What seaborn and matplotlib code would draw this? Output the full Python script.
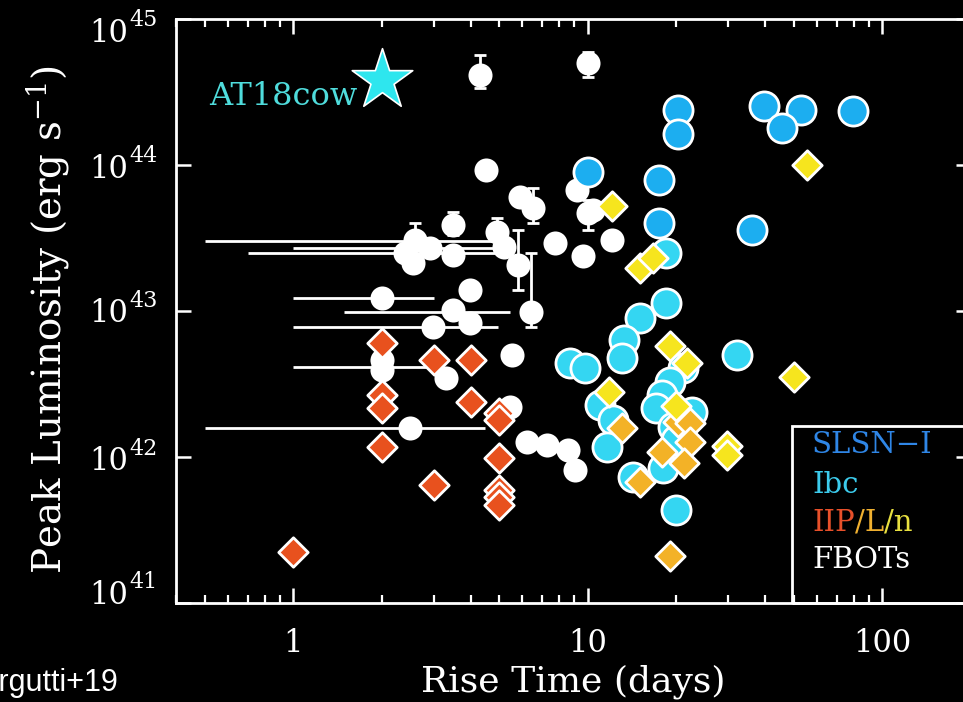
import numpy as np
import seaborn as sns
import matplotlib.pyplot as plt
from matplotlib.patches import Rectangle
from matplotlib.ticker import FixedLocator, LogLocator, NullLocator

# Superluminous supernovae (type I)
slsn_rise = [20.3, 20.3, 39.8, 53.1, 45.8, 79.8, 10.0, 17.4, 17.5, 36.0]
slsn_lum = [2.38e44, 1.63e44, 2.55e44, 2.38e44, 1.79e44, 2.34e44,
            8.96e43, 7.89e43, 4.01e43, 3.59e43]

# Stripped-envelope supernovae (Ibc)
ibc_rise = [18.5, 18.5, 15.0, 13.3, 13.1, 8.69, 9.77, 32.0, 11.0, 12.2, 11.6,
            14.2, 21.0, 19.0, 17.8, 17.1, 22.5, 19.4, 20.0, 18.0, 19.9]
ibc_lum = [2.50e43, 1.13e43, 8.96e42, 6.32e42, 4.77e42, 4.40e42, 4.07e42,
           5.0e42, 2.27e42, 1.79e42, 1.17e42, 7.3e41, 4.07e42, 3.27e42,
           2.66e42, 2.17e42, 2.03e42, 1.60e42, 1.31e42, 8.4e41, 4.33e41]

# Hydrogen-rich supernovae: IIP, IIL, IIn
iip_rise = [1.0, 2.0, 2.0, 2.0, 2.0, 3.0, 4.0, 4.0, 3.0, 5.0, 5.0, 5.0, 5.0, 5.0, 5.0]
iip_lum = [2.23e41, 6.04e42, 2.66e42, 2.17e42, 1.17e42, 4.61e42, 4.61e42,
           2.38e42, 6.43e41, 2.0e42, 1.79e42, 9.85e41, 5.94e41, 5.32e41, 4.69e41]

iil_rise = [13.1, 17.8, 20.2, 22.2, 22.2, 21.3, 15.0, 19.0]
iil_lum = [1.58e42, 1.08e42, 1.74e42, 1.71e42, 1.27e42, 9.1e41, 6.74e41, 2.10e41]

iin_rise = [12.1, 15.1, 16.6, 55.7, 50.3, 19.0, 21.8, 11.8, 20.0, 29.8, 29.8]
iin_lum = [5.24e43, 1.97e43, 2.31e43, 1.0e44, 3.53e42, 5.76e42, 4.40e42,
           2.79e42, 2.23e42, 1.19e42, 1.03e42]

# Fast blue optical transients
fbot_rise = [4.30, 10.0, 4.51, 5.88, 6.51, 9.18, 10.0, 10.4, 3.49, 4.91, 7.73,
             12.1, 2.59, 2.40, 2.55, 2.91, 3.49, 5.2, 5.79, 9.62, 6.4, 2.0,
             3.98, 3.49, 3.98, 2.98, 5.53, 2.0, 2.0, 3.30, 2.49, 5.44, 6.21,
             7.26, 8.55, 9.03]
fbot_lum = [4.13e44, 5.0e44, 9.25e43, 6.04e43, 5.07e43, 6.74e43, 4.69e43,
            4.92e43, 3.88e43, 3.5e43, 2.9e43, 3.06e43, 3.06e43, 2.50e43,
            2.13e43, 2.70e43, 2.42e43, 2.74e43, 2.07e43, 2.38e43, 9.85e42,
            1.23e43, 1.39e43, 1.02e43, 8.28e42, 7.77e42, 5.0e42, 4.61e42,
            3.95e42, 3.48e42, 1.58e42, 2.20e42, 1.27e42, 1.21e42, 1.12e42, 8.15e41]

# FBOT luminosity uncertainties
fbot_yerr_rise = [4.30, 10.0, 6.51, 10.0, 3.49, 4.91, 2.59, 5.79, 6.4]
fbot_yerr_lum = [4.13e44, 5.0e44, 5.07e43, 4.69e43, 3.88e43, 3.5e43, 3.06e43, 2.07e43, 9.85e42]
fbot_yerr_lo = [3.37e44, 4.0e44, 4.01e43, 3.59e43, 3.3e43, 3.0e43, 2.6e43, 1.39e43, 7.77e42]
fbot_yerr_hi = [5.66e44, 5.94e44, 6.95e43, 5.76e43, 4.76e43, 4.33e43, 4.01e43, 3.59e43, 2.50e43]

# FBOT rise-time ranges
fbot_xerr_rise = [2.59, 2.91, 2.40, 2.0, 3.49, 2.98, 2.0, 2.49]
fbot_xerr_lum = [3.02e43, 2.72e43, 2.50e43, 1.23e43, 9.85e42, 7.77e42, 4.13e42, 1.58e42]
fbot_xerr_lo = [0.503, 1.0, 0.703, 1.0, 1.49, 1.0, 1.0, 0.503]
fbot_xerr_hi = [5.6, 5.6, 5.0, 3.0, 5.44, 4.95, 3.0, 4.48]

# AT2018cow
cow_rise = [2.0]
cow_lum = [3.8e44]

x_ticks = [1, 10, 100]
x_tick_labels = ["1", "10", "100"]
y_ticks = [1e41, 1e42, 1e43, 1e44, 1e45]
y_tick_exponents = ["41", "42", "43", "44", "45"]

sns.set_style("dark", {
    "axes.facecolor": "black", "figure.facecolor": "black",
    "axes.edgecolor": "white", "text.color": "white",
    "axes.labelcolor": "white", "xtick.color": "white",
    "ytick.color": "white", "axes.grid": False,
})
plt.rcParams["font.family"] = ["DejaVu Serif"]
plt.rcParams["mathtext.fontset"] = "dejavuserif"

W, H = 963, 702
PT = 0.72  # points per pixel at 100 dpi
fig = plt.figure(figsize=(W / 100, H / 100), dpi=100, facecolor="black")
ax = fig.add_axes([176 / W, 99 / H, 795 / W, 584 / H])
ax.set_facecolor("black")
ax.set_xscale("log")
ax.set_yscale("log")
ax.set_xlim(0.4, 200)
ax.set_ylim(1e41, 1e45)

c_slsn = "#1caef0"
c_ibc = "#34d6f2"
c_iip = "#e8511e"
c_iil = "#f3b227"
c_iin = "#f6e51e"

# error bars for the fast transients
xe = np.array(fbot_xerr_rise)
ax.errorbar(fbot_xerr_rise, fbot_xerr_lum,
            xerr=[xe - np.array(fbot_xerr_lo), np.array(fbot_xerr_hi) - xe],
            fmt="none", ecolor="white", elinewidth=2.0, capsize=0, zorder=2)
ye = np.array(fbot_yerr_lum)
ax.errorbar(fbot_yerr_rise, fbot_yerr_lum,
            yerr=[ye - np.array(fbot_yerr_lo), np.array(fbot_yerr_hi) - ye],
            fmt="none", ecolor="white", elinewidth=2.0, capsize=4, capthick=2.0, zorder=2)

sns.scatterplot(x=fbot_rise, y=fbot_lum, ax=ax, marker="o", s=300,
                color="white", edgecolor="white", linewidth=0, zorder=3)
sns.scatterplot(x=slsn_rise, y=slsn_lum, ax=ax, marker="o", s=440,
                color=c_slsn, edgecolor="white", linewidth=2.0, zorder=4)
sns.scatterplot(x=ibc_rise, y=ibc_lum, ax=ax, marker="o", s=440,
                color=c_ibc, edgecolor="white", linewidth=2.0, zorder=4)
for xs, ys, col in [(iip_rise, iip_lum, c_iip), (iil_rise, iil_lum, c_iil),
                    (iin_rise, iin_lum, c_iin)]:
    sns.scatterplot(x=xs, y=ys, ax=ax, marker="D", s=225,
                    color=col, edgecolor="white", linewidth=2.0, zorder=5)
sns.scatterplot(x=cow_rise, y=cow_lum, ax=ax, marker="*", s=2100,
                color="#2ee6ee", edgecolor="white", linewidth=1.2, zorder=6)
ax.text(1.65, 2.93e44, "AT18cow", color="#4fdcdc", fontsize=23,
        ha="right", va="center", zorder=6)

# axes styling
for sp in ax.spines.values():
    sp.set_color("white")
    sp.set_linewidth(2.0)
ax.xaxis.set_major_locator(FixedLocator(x_ticks))
ax.set_xticklabels(x_tick_labels)
ax.xaxis.set_minor_locator(LogLocator(base=10, subs=np.arange(2, 10), numticks=20))
ax.yaxis.set_major_locator(FixedLocator(y_ticks))
ax.set_yticklabels([])
ax.yaxis.set_minor_locator(NullLocator())
ax.tick_params(axis="both", which="major", direction="in", length=11, width=1.8,
               labelsize=22, colors="white")
ax.tick_params(axis="x", which="both", top=True, bottom=True)
ax.tick_params(axis="y", which="both", left=True, right=True)
ax.tick_params(axis="x", which="minor", direction="in", length=5.5, width=1.6)
ax.tick_params(axis="x", which="major", pad=18)

# power-of-ten labels on the luminosity axis
y_label_shift = [8, -5, -3, -4, -14]  # pixels, keeps end labels inside the frame
ytrans = ax.get_yaxis_transform()
for val, exp, dy in zip(y_ticks, y_tick_exponents, y_label_shift):
    ax.annotate("10", xy=(0, val), xycoords=ytrans,
                xytext=(-48 * PT, dy * PT), textcoords="offset points",
                ha="right", va="center", fontsize=22, color="white",
                annotation_clip=False)
    ax.annotate(exp, xy=(0, val), xycoords=ytrans,
                xytext=(-47 * PT, (dy + 13) * PT), textcoords="offset points",
                ha="left", va="center", fontsize=16, color="white",
                annotation_clip=False)

ax.set_xlabel("Rise Time (days)", fontsize=26)
ax.xaxis.set_label_coords(0.5, (603 - 664) / 584)
ax.set_ylabel(r"Peak Luminosity (erg s$^{-1}$)", fontsize=28)
ax.yaxis.set_label_coords((72 - 176) / 795, 0.485)

# class key
ax.add_patch(Rectangle((0.775, 0.0), 0.4, 0.303, transform=ax.transAxes,
                       fill=False, ec="white", lw=2.0, clip_on=False, zorder=7))
kx = (812 - 176) / 795
key_fs = 21
ax.text(kx, 0.2705, "SLSN\u2212I", color="#2f86e6", fontsize=key_fs,
        transform=ax.transAxes, va="center", zorder=8)
ax.text(kx, 0.202, "Ibc", color="#3ccbec", fontsize=key_fs,
        transform=ax.transAxes, va="center", zorder=8)
t1 = ax.text(kx, 0.137, "IIP", color="#e8502a", fontsize=key_fs,
             transform=ax.transAxes, va="center", zorder=8)
t2 = ax.annotate("/L", xycoords=t1, xy=(1, 0), va="bottom", color="#f0b030",
                 fontsize=key_fs, zorder=8)
ax.annotate("/n", xycoords=t2, xy=(1, 0), va="bottom", color="#e8e040",
            fontsize=key_fs, zorder=8)
ax.text(kx, 0.0736, "FBOTs", color="white", fontsize=key_fs,
        transform=ax.transAxes, va="center", zorder=8)

fig.text(118 / W, 1 - 683 / H, "Margutti+19", color="white", fontsize=22,
         family=["Liberation Sans", "DejaVu Sans"], ha="right", va="center")

fig.savefig("out.png", dpi=100, facecolor="black")
